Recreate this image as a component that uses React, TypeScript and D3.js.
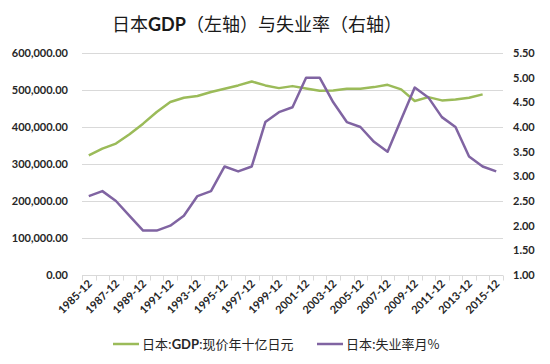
import React, { useRef, useEffect } from "react";
import * as d3 from "d3";

// categories: year-end months
const years = d3.range(1985, 2016).map((y) => `${y}-12`);
// GDP, current prices, billion yen (left axis) - no value for 2015
const gdp = [
  323600, 341600, 355200, 380200, 409000, 440400, 467400, 479100, 483600, 494400,
  503400, 512400, 523100, 512400, 505100, 510500, 504000, 498000, 498900, 503400,
  503400, 507800, 514000, 501600, 470100, 480800, 471900, 474600, 479200, 488100,
];
// unemployment rate, % (right axis)
const unemp = [
  2.6, 2.7, 2.5, 2.2, 1.9, 1.9, 2.0, 2.2, 2.6, 2.7,
  3.2, 3.1, 3.2, 4.1, 4.3, 4.4, 5.0, 5.0, 4.5, 4.1,
  4.0, 3.7, 3.5, 4.15, 4.8, 4.6, 4.2, 4.0, 3.4, 3.2, 3.1,
];
const leftTicks = [0, 100000, 200000, 300000, 400000, 500000, 600000];
const rightTicks = [1, 1.5, 2, 2.5, 3, 3.5, 4, 4.5, 5, 5.5];
const seriesNames = [["日本:", "GDP", ":现价年十亿日元"], ["日本:失业率月%", "", ""]];
const colors = ["#9bbb59", "#8064a2"];

const W = 550;
const H = 364;
const m = { top: 53, right: 47, bottom: 89, left: 82 };
const font = "Lato, 'Noto Sans CJK SC', sans-serif";
const cjk = "'Noto Sans CJK SC', sans-serif";

export default function App() {
  const svgRef = useRef<SVGSVGElement>(null);

  useEffect(() => {
    const svg = d3.select(svgRef.current);
    svg.selectAll("*").remove();

    const x = d3.scaleBand().domain(years).range([m.left, W - m.right]);
    const yL = d3.scaleLinear().domain([0, 600000]).range([H - m.bottom, m.top]);
    const yR = d3.scaleLinear().domain([1, 5.5]).range([H - m.bottom, m.top]);
    const cx = (i: number) => x(years[i])! + x.bandwidth() / 2;

    // chart border
    svg.append("rect")
      .attr("x", 1.5).attr("y", 1.5)
      .attr("width", W - 3).attr("height", H - 4)
      .attr("fill", "#fff").attr("stroke", "#d9d9d9");

    // title
    const title = svg.append("text")
      .attr("x", 257).attr("y", 31)
      .attr("text-anchor", "middle")
      .attr("font-family", cjk)
      .attr("font-size", 18)
      .attr("fill", "#1a1a1a");
    title.append("tspan").text("日本");
    title.append("tspan").attr("font-family", font).attr("font-weight", 700).text("GDP");
    title.append("tspan").text("（左轴）与失业率（右轴）");

    // gridlines
    svg.append("g").selectAll("line")
      .data(leftTicks.slice(1))
      .join("line")
      .attr("x1", m.left).attr("x2", W - m.right)
      .attr("y1", (d) => Math.round(yL(d)) + 0.5)
      .attr("y2", (d) => Math.round(yL(d)) + 0.5)
      .attr("stroke", "#d9d9d9");

    // left axis labels
    svg.append("g").selectAll("text")
      .data(leftTicks)
      .join("text")
      .attr("x", 68).attr("y", (d) => yL(d) + 4)
      .attr("text-anchor", "end")
      .attr("font-family", font).attr("font-size", 11).attr("font-weight", 700)
      .attr("fill", "#262626")
      .text((d) => d3.format(",.2f")(d));

    // right axis labels
    svg.append("g").selectAll("text")
      .data(rightTicks)
      .join("text")
      .attr("x", 513).attr("y", (d) => yR(d) + 4)
      .attr("font-family", font).attr("font-size", 11).attr("font-weight", 700)
      .attr("fill", "#262626")
      .text((d) => d3.format(".2f")(d));

    // x axis line + ticks
    const base = Math.round(H - m.bottom) + 0.5;
    svg.append("line")
      .attr("x1", m.left).attr("x2", W - m.right)
      .attr("y1", base).attr("y2", base)
      .attr("stroke", "#d9d9d9");
    svg.append("g").selectAll("line")
      .data(d3.range(years.length + 1))
      .join("line")
      .attr("x1", (i) => Math.round(m.left + i * x.step()) + 0.5)
      .attr("x2", (i) => Math.round(m.left + i * x.step()) + 0.5)
      .attr("y1", base).attr("y2", base + 5)
      .attr("stroke", "#d9d9d9");

    // x labels every other year, rotated
    svg.append("g").selectAll("text")
      .data(years.filter((_, i) => i % 2 === 0))
      .join("text")
      .attr("transform", (d) => `translate(${x(d)! + x.bandwidth() / 2 + 4},${base + 9}) rotate(-45)`)
      .attr("text-anchor", "end")
      .attr("font-family", font).attr("font-size", 11).attr("font-weight", 700)
      .attr("fill", "#262626")
      .text((d) => d);

    // lines
    const lineL = d3.line<number>().x((_, i) => cx(i)).y((d) => yL(d));
    const lineR = d3.line<number>().x((_, i) => cx(i)).y((d) => yR(d));
    svg.append("path").attr("d", lineL(gdp))
      .attr("fill", "none").attr("stroke", colors[0])
      .attr("stroke-width", 2.5).attr("stroke-linejoin", "round");
    svg.append("path").attr("d", lineR(unemp))
      .attr("fill", "none").attr("stroke", colors[1])
      .attr("stroke-width", 2.5).attr("stroke-linejoin", "round");

    // legend
    const legendX = [113, 317];
    const lg = svg.append("g").selectAll("g")
      .data(seriesNames)
      .join("g")
      .attr("transform", (_, i) => `translate(${legendX[i]},344)`);
    lg.append("line")
      .attr("x1", 0).attr("x2", 26).attr("y1", 0).attr("y2", 0)
      .attr("stroke", (_, i) => colors[i]).attr("stroke-width", 2.5);
    const lt = lg.append("text")
      .attr("x", 29).attr("y", 5)
      .attr("font-family", cjk)
      .attr("font-size", 13)
      .attr("fill", "#262626");
    lt.append("tspan").text((d) => d[0]);
    lt.append("tspan").attr("font-family", font).attr("font-weight", 700).text((d) => d[1]);
    lt.append("tspan").text((d) => d[2]);
  }, []);

  return (
    <div style={{ margin: -8 }}>
      <svg ref={svgRef} width={W} height={H} style={{ display: "block" }} />
    </div>
  );
}
